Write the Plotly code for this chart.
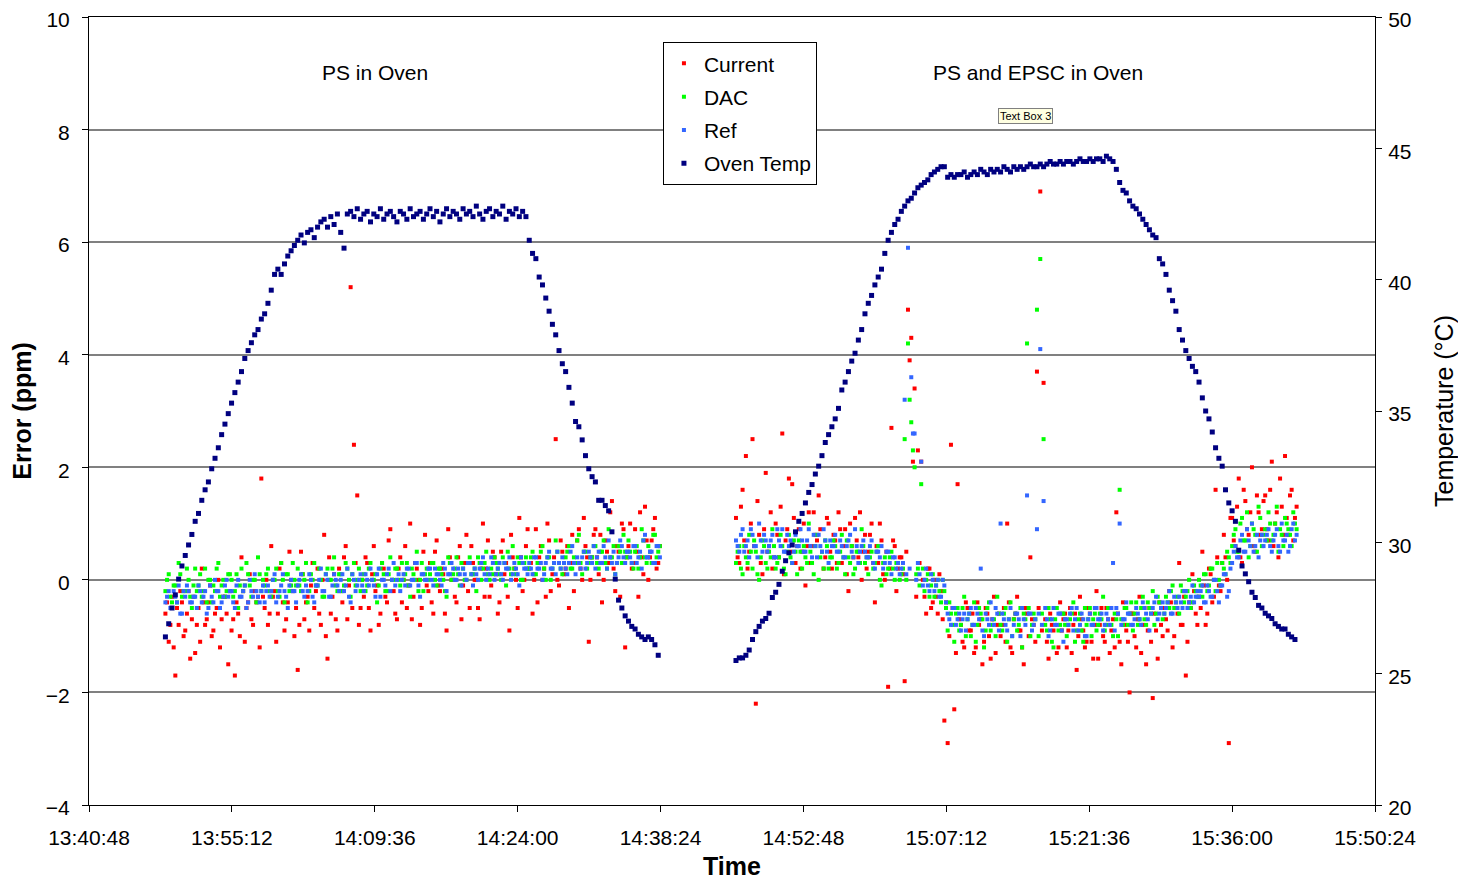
import pandas as pd
import plotly.graph_objects as go

DAY = "2008-06-10"
SAMPLE_SEC = 20
SEG1_START = "13:48:30"
SEG1_START_B = "13:48:40"
SEG2_START = "14:46:00"
SEG2_START_B = "14:46:10"
X_START = "13:40:48"
X_END = "15:50:24"
TICK_STEP_MS = 864000

# ---------- Segment 1: PS in oven ----------
SEG1_TEMP = [
    26.4, 26.9, 27.5, 28.0, 28.6, 29.1, 29.5, 29.9, 30.3, 30.8,
    31.1, 31.6, 32.0, 32.3, 32.8, 33.2, 33.6, 34.1, 34.5, 34.9,
    35.3, 35.7, 36.1, 36.5, 37.0, 37.3, 37.6, 37.9, 38.1, 38.5,
    38.7, 39.1, 39.6, 40.2, 40.4, 40.2, 40.6, 40.9, 41.1, 41.3,
    41.5, 41.7, 41.4, 41.8, 41.9, 41.6, 42.0, 42.2, 42.3, 42.0,
    42.4, 42.1, 42.5, 41.8, 41.2, 42.5, 42.6,
    42.4, 42.7, 42.3, 42.5, 42.6, 42.2, 42.5, 42.4, 42.7, 42.3,
    42.5, 42.6, 42.4, 42.2, 42.6, 42.5, 42.3, 42.7, 42.4, 42.5,
    42.6, 42.3, 42.5, 42.7, 42.4, 42.6, 42.2, 42.5, 42.7, 42.4,
    42.6, 42.5, 42.3, 42.7, 42.5, 42.6, 42.4, 42.8, 42.5, 42.3,
    42.6, 42.7, 42.4, 42.6, 42.5, 42.8, 42.3, 42.6, 42.5, 42.7,
    42.4, 42.6,
    42.4, 41.5, 41.0, 40.8, 40.1, 39.8, 39.3, 38.8, 38.3, 37.9,
    37.3, 36.8, 36.5, 35.9, 35.3, 34.6, 34.4, 33.9, 33.3, 32.8,
    32.5, 32.3, 31.6, 31.6, 31.4, 31.2, 30.4, 28.6, 27.8, 27.5,
    27.2, 27.0, 26.8, 26.7, 26.5, 26.4, 26.3, 26.4, 26.3, 26.1,
    25.7,
]
SEG1_CURRENT = [
    -0.6, -1.1, -0.3, -1.7, -0.8, -0.4, -0.9, -0.2, -0.7, -1.3,
    -0.5, 0.2, -0.8, -0.4, -1.0, -0.6, 0.0, -0.7, -0.3, -1.5,
    -0.9, -1.7, -0.6, 0.4, -1.1, -0.4, -0.7, -0.2, -0.3, 1.8,
    -0.5, -0.8, 0.6, -0.2, -0.6, 0.3, -0.9, -0.4, 0.0, -1.0,
    -1.6, 0.5, -0.7, -0.3, -0.1, -0.5, 0.2, -0.8, 0.8, -1.4,
    -0.6, 0.1, -0.9, -0.2, 0.4, -0.7, 5.2, 2.4, 1.5, -0.5,
    -0.3, 0.3, -0.9, 0.6, -0.1, -0.6, 0.2, -0.4, 0.9, -0.2,
    -0.7, 0.4, 0.0, -0.5, 1.0, -0.3, 0.2, -0.8, 0.5, -0.1,
    0.3, -0.6, 0.7, -0.2, 0.1, -0.9, 0.4, 0.0, -0.4, 0.6,
    -0.1, 0.8, -0.5, 0.3, 0.0, -0.7, 1.0, 0.2, -0.3, 0.5,
    0.1, -0.4, 0.7, 0.3, -0.9, 0.4, 0.0, 1.1, -0.2, 0.6,
    0.2, -0.6, 0.9, 0.4, 0.0, -0.3, 0.7, 0.1, 2.5, -0.1,
    0.5, 0.2, -0.5, 0.8, 0.3, 0.9, 0.0, 0.6, -1.1, 0.4,
    0.9, 0.1, -0.4, 0.7, 0.3, 1.4, -0.2, 0.5, 1.0, -1.2,
    0.6, 0.2, 0.9, -0.3, 0.4, 1.3, 0.0, 0.7, 1.1, 0.3,
]
SEG1_CURRENT_B = [
    -0.4, -0.8, -1.2, -0.5, -0.2, -1.0, -0.6, -1.4, -0.3, -0.8,
    -1.1, -0.4, -0.7, -0.1, -0.9, -0.5, -1.2, -0.3, -0.6, -0.2,
    -0.7, -0.4, -1.0, -0.2, -0.5, 0.1, -0.8, -0.4, -1.2, -0.3,
    0.0, -0.6, -0.3, -1.1, 0.2, -0.4, -0.7, 0.5, -0.2, -0.5,
    -0.8, 0.1, -0.4, -0.9, 0.3, -0.2, -0.6, 0.0, -1.0, 0.4,
    -0.3, -0.7, 0.2, -0.4, 0.6, -0.1, -0.5, 0.3, -0.8, 0.0,
    0.4, -0.5, 0.1, -0.2, -0.8, 0.3, -0.3, 0.7, 0.0, -0.6,
    0.2, -0.4, 0.6, -0.1, -0.7, 0.3, 0.0, -0.5, 0.8, -0.2,
    -0.4, 0.5, -0.1, 0.2, -0.6, 0.9, 0.0, -0.3, 0.4, -0.7,
    0.3, -0.2, 0.6, 0.0, -0.5, 0.2, -0.3, 0.7, -0.1, 0.4,
    -0.6, 0.5, 0.1, -0.3, 0.8, 0.2, -0.5, 0.4, 0.0, 0.9,
    0.3, 0.0, -0.4, 0.6, 0.2, 1.0, -0.2, 0.4, 0.0, 0.7,
    0.1, 0.6, 0.3, -0.2, 0.7, 0.2, 1.1, 0.4, 0.0, 0.8,
    0.4, 0.8, 0.0, 0.5, 1.2, 0.2, 0.6, -0.3, 0.9, 0.4,
    1.0, 0.3, 0.5, 1.2, 0.1, 0.7, 0.4, 0.9, 0.2, 0.6,
]
SEG1_DAC = [
    -0.2, 0.1, -0.4, -0.1, 0.3, -0.3, -0.2, 0.0, -0.5, 0.2,
    -0.1, -0.3, 0.2, 0.0, -0.4, -0.2, 0.3, -0.1, -0.3, 0.1,
    0.0, -0.2, -0.5, 0.2, -0.1, 0.1, -0.3, 0.0, 0.4, -0.2,
    -0.1, 0.2, -0.3, 0.0, -0.2, 0.3, -0.4, 0.1, -0.1, 0.0,
    0.2, -0.2, 0.0, -0.4, 0.1, 0.3, -0.1, 0.0, -0.3, 0.2,
    0.0, 0.4, -0.2, 0.1, -0.1, 0.2, -0.3, 0.3, 0.0, -0.2,
    0.1, -0.1, 0.3, 0.0, -0.4, 0.2, 0.1, -0.2, 0.4, 0.0,
    0.2, -0.1, 0.0, 0.3, -0.3, 0.1, 0.5, 0.0, -0.2, 0.2,
    0.1, 0.3, -0.1, 0.2, 0.0, -0.3, 0.3, 0.1, 0.4, -0.1,
    0.2, 0.0, 0.4, 0.1, -0.2, 0.3, 0.2, 0.5, 0.0, 0.1,
    0.3, 0.1, 0.4, -0.1, 0.2, 0.6, 0.1, 0.3, 0.0, 0.4,
    0.2, 0.5, 0.1, 0.3, 0.6, 0.0, 0.4, 0.2, 0.7, 0.3,
    0.1, 0.4, 0.6, 0.2, 0.3, 0.8, 0.1, 0.5, 0.3, 0.4,
    0.6, 0.2, 0.5, 0.3, 0.9, 0.4, 0.1, 0.6, 0.3, 0.5,
    0.7, 0.3, 0.5, 0.2, 0.9, 0.4, 0.6, 0.3, 0.8, 0.5,
]
SEG1_DAC_B = [
    0.0, -0.3, -0.1, -0.4, 0.1, -0.2, 0.2, -0.3, -0.1, -0.2,
    0.1, -0.2, -0.4, 0.0, -0.1, 0.2, -0.3, 0.0, -0.2, 0.1,
    -0.3, 0.1, -0.1, -0.2, 0.3, -0.1, 0.0, -0.4, 0.1, 0.0,
    0.1, -0.2, 0.0, 0.2, -0.3, 0.0, 0.1, -0.2, 0.3, -0.1,
    -0.1, 0.1, 0.3, -0.2, 0.0, -0.1, 0.2, -0.3, 0.1, 0.0,
    0.2, -0.1, 0.1, -0.2, 0.3, 0.0, 0.1, -0.1, 0.2, 0.0,
    -0.2, 0.2, 0.0, 0.1, -0.1, 0.3, -0.2, 0.1, 0.0, 0.2,
    0.0, 0.3, 0.1, -0.1, 0.2, 0.0, -0.2, 0.3, 0.1, 0.0,
    0.3, 0.0, 0.2, 0.1, -0.2, 0.4, 0.0, 0.2, 0.1, 0.3,
    0.0, 0.3, 0.1, 0.2, 0.4, 0.0, 0.3, 0.1, 0.2, 0.4,
    0.2, 0.0, 0.3, 0.5, 0.1, 0.2, 0.4, 0.0, 0.3, 0.2,
    0.4, 0.1, 0.3, 0.5, 0.2, 0.4, 0.0, 0.3, 0.5, 0.2,
    0.3, 0.5, 0.2, 0.4, 0.7, 0.3, 0.5, 0.2, 0.4, 0.6,
    0.3, 0.5, 0.7, 0.2, 0.4, 0.6, 0.3, 0.5, 0.8, 0.4,
    0.5, 0.2, 0.6, 0.4, 0.7, 0.3, 0.5, 0.8, 0.4, 0.6,
]
SEG1_REF = [
    -0.4, -0.2, -0.5, -0.3, -0.1, -0.6, -0.3, -0.2, -0.4, -0.3,
    -0.1, -0.4, -0.2, -0.5, -0.3, 0.0, -0.2, -0.4, -0.1, -0.3,
    -0.2, -0.5, 0.0, -0.3, -0.1, -0.4, -0.2, 0.1, -0.3, -0.2,
    -0.4, -0.1, -0.2, 0.1, -0.3, -0.1, -0.2, -0.5, 0.0, -0.2,
    -0.1, 0.1, -0.3, -0.2, 0.0, -0.4, -0.1, 0.2, -0.2, 0.0,
    -0.3, 0.1, -0.1, 0.0, -0.2, 0.2, -0.4, 0.0, -0.1, 0.1,
    -0.2, 0.0, 0.2, -0.1, 0.1, -0.3, 0.0, 0.1, -0.2, 0.3,
    0.0, -0.2, 0.1, 0.2, -0.1, 0.0, 0.3, -0.3, 0.1, 0.0,
    0.2, -0.1, 0.1, 0.0, 0.3, -0.2, 0.1, 0.2, 0.0, 0.1,
    0.2, 0.0, 0.3, -0.1, 0.1, 0.2, 0.4, 0.0, 0.1, 0.3,
    0.1, 0.3, 0.0, 0.2, 0.4, 0.1, 0.2, -0.1, 0.3, 0.2,
    0.3, 0.1, 0.4, 0.2, 0.0, 0.3, 0.5, 0.2, 0.1, 0.3,
    0.4, 0.2, 0.3, 0.6, 0.1, 0.3, 0.4, 0.2, 0.5, 0.3,
    0.2, 0.5, 0.3, 0.4, 0.7, 0.3, 0.1, 0.4, 0.6, 0.3,
    0.5, 0.3, 0.6, 0.4, 0.2, 0.8, 0.4, 0.5, 0.3, 0.6,
]
SEG1_REF_B = [
    -0.3, -0.5, -0.2, -0.4, -0.6, -0.2, -0.1, -0.4, -0.3, -0.5,
    -0.2, -0.3, -0.6, -0.1, -0.4, -0.2, -0.5, -0.3, 0.0, -0.2,
    -0.4, -0.1, -0.3, -0.2, -0.5, 0.0, -0.3, -0.2, -0.4, -0.1,
    -0.2, -0.3, 0.0, -0.4, -0.2, 0.1, -0.3, -0.1, -0.2, -0.4,
    0.0, -0.2, -0.1, 0.1, -0.3, -0.1, 0.0, -0.2, 0.1, -0.3,
    -0.1, 0.0, -0.2, 0.1, -0.1, -0.3, 0.1, -0.2, 0.0, -0.1,
    0.1, -0.1, 0.0, -0.3, 0.2, 0.0, -0.1, 0.2, 0.0, -0.1,
    0.1, 0.0, -0.1, 0.2, 0.0, 0.3, -0.1, 0.1, 0.0, 0.2,
    0.0, 0.2, 0.1, -0.1, 0.2, 0.1, 0.3, 0.0, 0.2, -0.1,
    0.1, 0.3, 0.1, 0.2, 0.0, 0.3, 0.1, 0.2, 0.4, 0.0,
    0.2, 0.1, 0.3, 0.2, 0.0, 0.3, 0.1, 0.4, 0.2, 0.1,
    0.2, 0.4, 0.2, 0.3, 0.1, 0.4, 0.2, 0.3, 0.5, 0.2,
    0.3, 0.1, 0.5, 0.3, 0.4, 0.2, 0.5, 0.3, 0.4, 0.6,
    0.4, 0.3, 0.6, 0.2, 0.4, 0.5, 0.3, 0.7, 0.4, 0.5,
    0.4, 0.6, 0.3, 0.5, 0.7, 0.4, 0.5, 0.3, 0.6, 0.4,
]

# ---------- Segment 2: PS and EPSC in oven ----------
SEG2_TEMP = [
    25.5, 25.6, 25.6, 25.7, 25.9, 26.3, 26.6, 26.8, 27.0, 27.1,
    27.3, 27.9, 28.1, 28.4, 28.9, 29.3, 29.6, 29.9, 30.4, 30.8,
    31.1, 31.5, 31.9, 32.2, 32.6, 32.9, 33.3, 33.8, 34.1, 34.4,
    34.7, 35.1, 35.8, 36.1, 36.5, 36.9, 37.2, 37.7, 38.1, 38.7,
    39.1, 39.4, 39.8, 40.1, 40.4, 41.0, 41.5, 41.8, 42.1, 42.3,
    42.6, 42.8, 43.0, 43.1, 43.3, 43.5, 43.6, 43.7, 43.8, 44.0,
    44.1, 44.2, 44.3, 44.3, 43.9, 44.0, 43.9, 44.0,
    44.0, 44.1, 43.9, 44.0, 44.1, 44.0, 44.2, 44.1, 44.0, 44.2,
    44.1, 44.2, 44.1, 44.3, 44.2, 44.1, 44.3, 44.2, 44.3, 44.2,
    44.3, 44.4, 44.3, 44.3, 44.4, 44.3, 44.4, 44.5, 44.4, 44.4,
    44.5, 44.4, 44.5, 44.5, 44.4, 44.5, 44.6, 44.5, 44.5, 44.6,
    44.5, 44.6, 44.6, 44.5, 44.7, 44.6,
    44.5, 44.2, 43.7, 43.4, 43.3, 43.0, 42.8, 42.7, 42.5, 42.3,
    42.1, 41.9, 41.7, 41.6, 40.8, 40.6, 40.2, 39.6, 39.2, 38.8,
    38.1, 37.7, 37.3, 37.0, 36.7, 36.5, 36.1, 35.5, 35.0, 34.7,
    34.2, 33.6, 33.2, 32.9, 32.0, 31.5, 31.2, 30.8, 29.7, 29.1,
    28.8, 28.5, 28.1, 27.9, 27.6, 27.5, 27.3, 27.2, 27.1, 26.9,
    26.8, 26.7, 26.7, 26.5, 26.4, 26.3,
]
SEG2_CURRENT = [
    1.1, 0.3, 1.6, 2.2, 0.5, 2.5, -2.2, 0.8, 0.1, 1.9,
    0.6, 0.2, 1.0, 0.4, 2.6, 0.7, 1.8, 1.7, 0.3, 0.9,
    0.5, -0.1, 1.2, 0.6, 0.8, 1.5, 2.2, 0.4, 1.0, 0.2,
    0.7, 1.2, 0.3, 0.9, -0.2, 0.6, 1.1, 0.4, 0.0, 0.8,
    0.5, 1.0, -0.4, 0.3, 0.7, 0.0, -1.9, 2.7, 0.6, 0.2,
    0.4, -1.8, 4.8, 4.3, 3.4, 2.3, 2.1, -0.3, 0.2, -0.5,
    0.0, -0.6, -0.2, -2.5, -2.9, 2.4, -2.3, 1.7, -0.8, -1.2,
    -0.5, -0.9, -1.3, -0.4, -0.7, -1.1, -0.6, -1.4, -0.3, -0.8,
    -1.0, -0.5, 1.0, -1.2, -0.7, -0.3, -0.9, -1.5, -0.6, 0.4,
    -0.8, 3.7, 6.9, 3.5, -1.1, -0.6, -0.9, -1.3, -0.4, -0.7,
    -1.2, -0.5, -0.8, -1.6, -0.3, -0.9, -1.1, -0.6, -1.4, -0.2,
    -0.8, -1.0, -0.5, -1.3, -0.7, 1.2, -1.1, -0.4, -0.9, -2.0,
    -0.6, -1.2, -0.3, -0.8, -1.5, -0.5, -2.1, -0.9, -0.4, -1.0,
    -0.7, -0.2, -1.2, -0.5, 0.3, -0.8, -1.7, -0.4, 0.1, -0.6,
    -0.3, 0.5, -0.8, 0.2, -0.4, 1.6, -0.1, 0.3, 0.4, -2.9,
    1.1, 0.6, 1.8, 0.3, 1.4, 0.8, 2.0, 0.5, 1.2, 0.9,
    1.5, 0.7, 2.1, 1.0, 0.4, 1.3, 2.2, 0.8, 1.6, 1.1,
]
SEG2_CURRENT_B = [
    0.4, 1.3, 0.7, 0.2, 1.0, 0.6, 1.4, 0.3, 0.9, 0.5,
    1.2, 0.4, 0.8, 1.3, 0.1, 0.9, 0.5, 1.1, 0.6, 0.2,
    1.0, 0.6, 0.3, 1.2, 0.7, 0.9, 0.2, 1.1, 0.5, 0.8,
    0.3, 0.9, 0.6, 0.1, 1.0, 0.4, 0.7, 1.2, 0.5, 0.2,
    0.8, 0.3, 0.6, 1.0, 0.1, 0.5, 0.2, 0.7, -0.2, 0.4,
    0.1, 0.5, 3.9, 2.1, -0.3, 0.3, 0.0, -0.6, 0.2, -0.4,
    -0.3, 0.1, -0.7, -0.4, -1.0, -0.5, -1.3, -0.7, -1.1, -0.4,
    -0.9, -0.6, -1.2, -0.8, -1.5, -0.5, -1.0, -0.7, -1.3, -0.6,
    -0.8, -1.1, -0.4, -1.3, -0.6, -0.9, -1.2, -0.5, -1.0, -0.7,
    -1.1, -0.5, -0.9, -0.7, -1.4, -0.8, -0.5, -1.2, -0.9, -0.6,
    -0.9, -1.3, -0.6, -1.0, -0.7, -1.2, -0.5, -1.1, -0.8, -1.4,
    -0.5, -1.1, -0.7, -0.9, -1.2, -0.6, -1.5, -0.8, -1.1, -0.6,
    -1.0, -0.7, -1.3, -0.5, -0.9, -1.1, -0.6, -1.4, -0.8, -0.5,
    -0.9, -0.4, -1.0, -0.6, -0.8, -0.3, -1.1, -0.5, -0.2, -0.8,
    -0.5, -0.1, -0.6, 0.1, -0.3, 0.4, -0.2, 0.8, 0.0, 1.1,
    0.7, 1.3, 0.4, 1.6, 0.9, 1.2, 0.6, 1.5, 0.8, 1.4,
    0.9, 1.6, 0.6, 1.2, 1.8, 0.8, 1.1, 1.5, 0.7, 1.3,
]
SEG2_DAC = [
    0.3, 0.6, 0.1, 0.4, 0.8, 0.2, 0.5, 0.0, 0.7, 0.3,
    0.5, 0.9, 0.2, 0.4, 0.6, 0.1, 0.8, 0.3, 0.5, 0.7,
    0.2, 0.4, 1.0, 0.3, 0.6, 0.0, 0.5, 0.7, 0.2, 0.4,
    0.6, 0.3, 0.8, 0.1, 0.4, 0.6, 0.2, 0.5, 0.9, 0.3,
    0.1, 0.5, 0.3, 0.6, -0.1, 0.4, 0.2, 0.5, 0.0, 0.3,
    0.1, 2.5, 4.2, 2.8, 2.0, 0.2, 1.7, -0.2, 0.1, -0.1,
    -0.3, 0.0, -0.4, -0.2, -0.9, -0.6, -1.1, -0.5, -0.8, -0.3,
    -0.7, -1.0, -0.4, -0.8, -0.6, -1.2, -0.5, -0.9, -0.7, -0.3,
    -0.8, -0.6, -1.1, -0.4, -0.7, -0.9, -0.5, -0.6, 4.2, -1.0,
    -0.6, 4.8, 5.7, 2.5, -0.9, -0.7, -1.2, -0.5, -0.8, -0.6,
    -1.0, -0.7, -0.4, -0.9, -0.6, -1.1, -0.8, -0.5, -0.7, -0.9,
    -0.6, -0.3, -0.8, -0.5, -1.0, -0.7, 1.6, -0.8, -0.5, -0.6,
    -0.9, -0.4, -0.7, -0.3, -0.8, -0.5, -0.2, -0.6, -0.4, -0.7,
    -0.3, -0.5, -0.1, -0.4, -0.6, -0.2, -0.3, 0.0, -0.4, -0.2,
    0.0, -0.3, 0.1, -0.1, 0.2, -0.2, 0.0, 0.3, 0.1, 0.4,
    0.6, 0.9, 0.5, 1.1, 0.7, 0.4, 1.0, 0.8, 1.3, 0.6,
    0.9, 1.2, 0.7, 1.0, 0.5, 0.8, 1.1, 0.9, 0.6, 1.0,
]
SEG2_DAC_B = [
    0.5, 0.2, 0.6, 0.3, 0.5, 0.7, 0.1, 0.4, 0.6, 0.2,
    0.4, 0.6, 0.3, 0.8, 0.2, 0.5, 0.4, 0.7, 0.1, 0.5,
    0.6, 0.3, 0.5, 0.1, 0.8, 0.4, 0.2, 0.6, 0.4, 0.7,
    0.2, 0.5, 0.4, 0.7, 0.3, 0.1, 0.5, 0.3, 0.6, 0.4,
    0.4, 0.2, 0.5, 0.0, 0.3, 0.1, 0.4, 0.2, 0.3, 0.0,
    0.2, 0.0, 3.2, 2.3, 0.1, -0.1, 0.2, 0.0, -0.3, 0.1,
    -0.1, -0.2, 0.0, -0.5, -0.4, -0.8, -0.6, -0.9, -0.5, -1.0,
    -0.6, -0.8, -1.1, -0.5, -0.7, -0.9, -0.4, -0.8, -1.0, -0.6,
    -0.9, -0.5, -0.7, -1.0, -0.6, -0.8, -1.2, -0.7, -0.5, -0.8,
    -0.7, -1.0, -0.6, -0.8, -0.5, -1.1, -0.7, -0.9, -0.6, -0.8,
    -0.8, -0.6, -1.1, -0.7, -0.9, -0.5, -0.7, -1.0, -0.6, -0.8,
    -0.7, -0.9, -0.5, -0.8, -0.6, -1.0, -0.7, -0.5, -0.8, -0.4,
    -0.6, -0.8, -0.5, -0.7, -0.4, -0.6, -0.8, -0.3, -0.5, -0.6,
    -0.4, -0.2, -0.5, -0.3, -0.1, -0.4, -0.2, -0.5, -0.1, -0.3,
    -0.1, 0.1, -0.2, 0.2, 0.0, 0.3, -0.1, 0.2, 0.5, 0.3,
    0.8, 0.5, 1.0, 0.7, 1.2, 0.6, 0.9, 0.5, 1.1, 0.8,
    0.7, 1.0, 0.8, 1.3, 0.9, 0.6, 1.0, 0.8, 1.2, 0.9,
]
SEG2_REF = [
    0.7, 0.5, 0.9, 0.6, 0.4, 0.8, 0.6, 1.0, 0.5, 0.7,
    0.6, 0.8, 0.4, 0.7, 0.9, 0.5, 0.6, 0.3, 0.8, 0.6,
    0.7, 0.5, 0.9, 0.4, 0.6, 0.8, 0.5, 0.7, 0.3, 0.6,
    0.8, 0.5, 0.6, 0.4, 0.7, 0.5, 0.9, 0.3, 0.6, 0.5,
    0.4, 0.7, 0.2, 0.5, 0.6, 0.3, 0.5, 0.1, 0.4, 0.3,
    0.2, 3.2, 5.9, 3.6, 2.6, 0.3, 2.1, 0.0, -0.1, 0.1,
    -0.2, 0.0, -0.3, -0.1, -0.6, -0.8, -0.5, -0.7, -0.9, -0.6,
    -0.7, -0.5, -0.8, -0.6, 0.2, -1.0, -0.7, -0.4, -0.8, -0.6,
    1.0, -0.7, -0.9, -0.5, -0.8, -0.6, -1.0, -0.7, 1.5, -0.6,
    -0.8, 0.9, 4.1, 1.4, -0.7, -0.9, -0.5, -0.8, -0.6, -1.1,
    -0.7, -0.6, -0.9, -0.5, -0.8, -0.7, -1.0, -0.6, -0.8, -0.5,
    -0.7, -0.9, -0.6, -0.8, 0.3, -0.5, 1.0, -0.7, -0.4, -0.6,
    -0.8, -0.5, -0.7, -0.4, -0.6, -0.9, -0.5, -0.3, -0.6, -0.4,
    -0.5, -0.2, -0.6, -0.4, -0.3, -0.5, -0.2, -0.4, -0.1, -0.3,
    -0.3, -0.1, -0.4, -0.2, -0.3, 0.0, -0.4, -0.1, 0.1, -0.2,
    0.3, 0.6, 0.4, 0.8, 0.5, 0.7, 1.0, 0.6, 0.4, 0.8,
    0.7, 0.9, 0.5, 0.8, 0.6, 1.0, 0.7, 0.5, 0.9, 0.7,
]
SEG2_REF_B = [
    0.6, 0.8, 0.5, 0.7, 0.9, 0.6, 0.4, 0.7, 0.8, 0.5,
    0.7, 0.4, 0.9, 0.6, 0.5, 0.8, 0.7, 0.5, 0.6, 0.9,
    0.5, 0.7, 0.6, 0.8, 0.4, 0.6, 0.9, 0.5, 0.7, 0.6,
    0.5, 0.7, 0.4, 0.6, 0.8, 0.4, 0.6, 0.5, 0.7, 0.4,
    0.6, 0.3, 0.5, 0.4, 0.2, 0.5, 0.3, 0.4, 0.2, 0.1,
    0.3, 0.1, 0.2, 2.6, 0.0, 0.1, -0.1, 0.2, -0.2, 0.0,
    -0.1, -0.3, 0.0, -0.4, -0.7, -0.5, -0.8, -0.6, -0.7, -0.9,
    -0.6, -0.8, -0.5, -0.7, -0.9, -0.6, -0.8, -0.7, -0.5, -0.9,
    -0.6, -0.8, -0.7, -1.0, -0.6, -0.7, -0.5, -0.8, -0.6, -0.9,
    -0.7, -0.6, -0.8, -0.5, -1.0, -0.7, -0.8, -0.6, -0.9, -0.7,
    -0.8, -0.5, -0.7, -0.9, -0.6, -1.0, -0.7, -0.8, -0.5, -0.7,
    -0.6, -0.8, -0.7, -0.5, -0.9, -0.6, -0.8, -0.7, -0.6, -0.8,
    -0.7, -0.6, -0.8, -0.5, -0.7, -0.6, -0.4, -0.7, -0.5, -0.6,
    -0.4, -0.6, -0.3, -0.5, -0.4, -0.2, -0.5, -0.3, -0.4, -0.2,
    -0.2, -0.4, -0.1, -0.3, 0.0, -0.2, -0.1, 0.1, -0.3, 0.2,
    0.5, 0.4, 0.7, 0.5, 0.9, 0.6, 0.5, 0.8, 0.7, 0.6,
    0.8, 0.6, 0.7, 0.9, 0.5, 0.7, 0.8, 0.6, 1.0, 0.8,
]

SERIES = ["Current", "DAC", "Ref", "Oven Temp"]
COLORS = ["#ff0000", "#00ff00", "#3366ff", "#000080"]
LABEL_LEFT = "PS in Oven"
LABEL_RIGHT = "PS and EPSC in Oven"
TEXTBOX = "Text Box 3"


def sample_times(start, n):
    return list(pd.date_range(f"{DAY} {start}", periods=n, freq=f"{SAMPLE_SEC}s"))


# each series: list of (segment start time, readings)
readings = {
    "Current": [(SEG1_START, SEG1_CURRENT), (SEG1_START_B, SEG1_CURRENT_B),
                (SEG2_START, SEG2_CURRENT), (SEG2_START_B, SEG2_CURRENT_B)],
    "DAC": [(SEG1_START, SEG1_DAC), (SEG1_START_B, SEG1_DAC_B),
            (SEG2_START, SEG2_DAC), (SEG2_START_B, SEG2_DAC_B)],
    "Ref": [(SEG1_START, SEG1_REF), (SEG1_START_B, SEG1_REF_B),
            (SEG2_START, SEG2_REF), (SEG2_START_B, SEG2_REF_B)],
    "Oven Temp": [(SEG1_START, SEG1_TEMP), (SEG2_START, SEG2_TEMP)],
}

FONT = "Liberation Sans, Arial, sans-serif"

fig = go.Figure()
for name, color in zip(SERIES, COLORS):
    is_temp = name == "Oven Temp"
    xs, ys = [], []
    for start, vals in readings[name]:
        xs += sample_times(start, len(vals))
        ys += list(vals)
    fig.add_trace(go.Scatter(
        x=xs, y=ys, name=name, mode="markers",
        yaxis="y2" if is_temp else "y",
        legendgroup=name,
        marker=dict(symbol="square", size=5 if is_temp else 4, color=color,
                    line=dict(width=0)),
    ))

fig.update_layout(
    width=1450, height=872,
    margin=dict(l=81, r=83, t=9, b=75, autoexpand=False),
    paper_bgcolor="white", plot_bgcolor="white",
    font=dict(family=FONT, size=21, color="black"),
    showlegend=True,
    legend=dict(x=0.4463, y=0.968, xanchor="left", yanchor="top",
                bgcolor="white", bordercolor="black", borderwidth=1,
                font=dict(size=21), traceorder="grouped", tracegroupgap=3,
                itemwidth=30),
    xaxis=dict(
        type="date", automargin=False,
        range=[f"{DAY} {X_START}", f"{DAY} {X_END}"],
        tick0=f"{DAY} {X_START}", dtick=TICK_STEP_MS,
        tickformat="%H:%M:%S",
        ticks="outside", ticklen=6, tickcolor="black",
        showline=True, linecolor="black", linewidth=1, mirror=True,
        showgrid=False, zeroline=False,
        ticklabelstandoff=8, ticklabeloverflow="allow",
        title=dict(text="<b>Time</b>", standoff=29),
    ),
    yaxis=dict(
        automargin=False,
        range=[-4, 10], dtick=2, tick0=0,
        ticks="outside", ticklen=6, tickcolor="black",
        showline=True, linecolor="black", linewidth=1,
        showgrid=True, gridcolor="#808080", gridwidth=2,
        zeroline=False, ticklabelstandoff=8, ticklabeloverflow="allow",
        ticklabelshift=3,
        title=dict(text="<b>Error (ppm)</b>", standoff=14),
    ),
    yaxis2=dict(
        automargin=False,
        overlaying="y", side="right",
        range=[20, 50], dtick=5, tick0=20,
        ticks="outside", ticklen=6, tickcolor="black",
        showline=True, linecolor="black", linewidth=1,
        showgrid=False, zeroline=False, ticklabelstandoff=2,
        ticklabeloverflow="allow", ticklabelshift=3,
        title=dict(text="Temperature (°C)", standoff=37),
    ),
    annotations=[
        dict(text=LABEL_LEFT, x=0.2224, y=0.9302, xref="paper", yref="paper",
             xanchor="center", yanchor="middle",
             showarrow=False, font=dict(size=21)),
        dict(text=LABEL_RIGHT, x=0.738, y=0.9302, xref="paper", yref="paper",
             xanchor="center", yanchor="middle",
             showarrow=False, font=dict(size=21)),
        dict(text=TEXTBOX, x=0.7286, y=0.8744, xref="paper", yref="paper",
             xanchor="center", yanchor="middle",
             showarrow=False, font=dict(size=11), bgcolor="#ffffe1",
             bordercolor="#808080", borderwidth=1, borderpad=1),
    ],
)

fig.write_html("out.html")
